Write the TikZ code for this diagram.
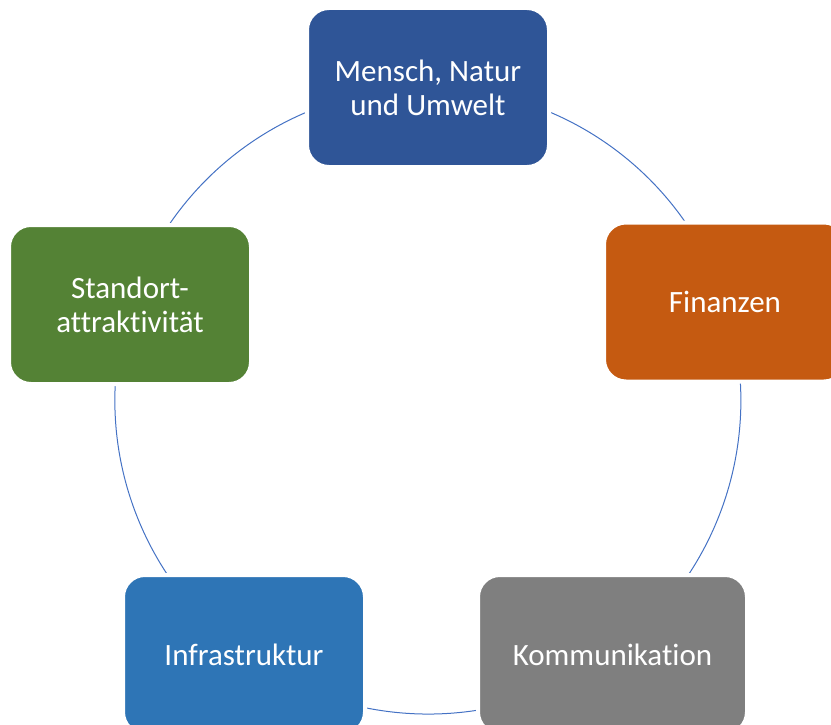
\documentclass[tikz,border=0pt]{standalone}
\usepackage{fontspec}
\setmainfont{Carlito}[Ligatures={NoCommon,NoRare,NoDiscretionary}]
\usetikzlibrary{backgrounds}
\definecolor{cTop}{HTML}{2F5597}
\definecolor{cFin}{HTML}{C55A11}
\definecolor{cKom}{HTML}{7F7F7F}
\definecolor{cInf}{HTML}{2E75B6}
\definecolor{cSta}{HTML}{548235}
\definecolor{cLine}{HTML}{4472C4}
\begin{document}
\begin{tikzpicture}[x=1pt,y=-1pt,
  box/.style={rectangle, rounded corners=22pt, draw=white, line width=4pt,
    minimum width=242pt, minimum height=159pt, inner sep=0pt, outer sep=0pt,
    text=white, align=center, font=\fontsize{31}{34}\selectfont},
  cyc/.style={draw=cLine, line width=1pt, bend left=36, looseness=0.94}]
\useasboundingbox (0,0) rectangle (831,725);
\node[box, fill=cTop] (mensch) at (428,87.5) {Mensch, Natur\\und Umwelt};
\node[box, fill=cFin] (fin) at (725,302) {Finanzen};
\node[box, fill=cKom, minimum width=269pt] (kom) at (612.5,654.5) {Kommunikation};
\node[box, fill=cInf] (inf) at (244,654.5) {Infrastruktur};
\node[box, fill=cSta] (sta) at (130,304.5) {Standort-\\attraktivität};
\begin{scope}[on background layer]
\draw[cyc] (mensch.center) to (fin.center);
\draw[cyc] (fin.center) to (kom.center);
\draw[cyc] (kom.center) to (inf.center);
\draw[cyc] (inf.center) to (sta.center);
\draw[cyc] (sta.center) to (mensch.center);
\end{scope}
\end{tikzpicture}
\end{document}
